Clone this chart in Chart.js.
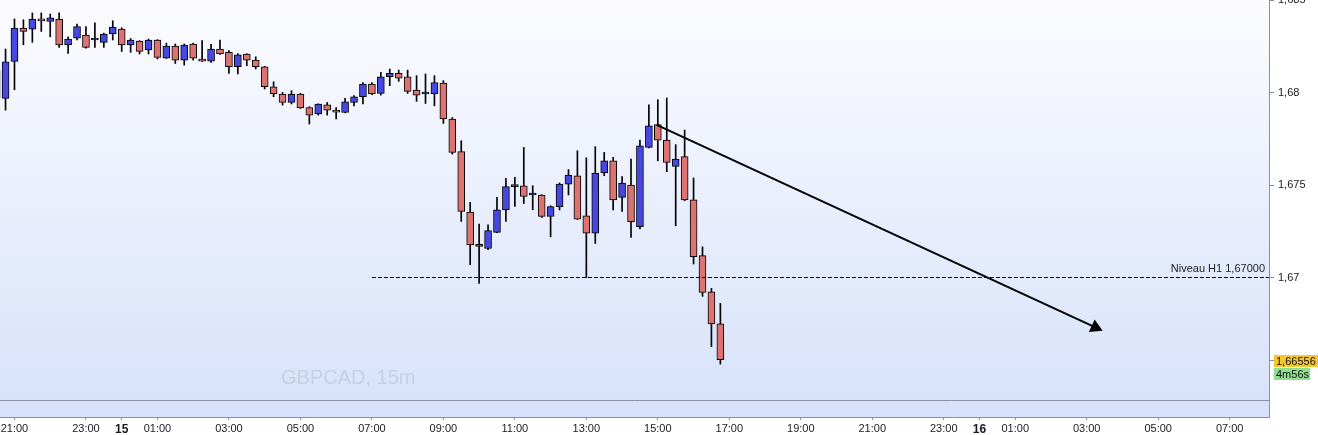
<!DOCTYPE html>
<html>
<head>
<meta charset="utf-8">
<script src="https://cdn.jsdelivr.net/npm/chart.js@4.4.1/dist/chart.umd.min.js"></script>
<style>
  html, body { margin: 0; padding: 0; background: #fff; }
  #wrap { width: 1318px; height: 435px; }
</style>
</head>
<body>
<div id="wrap"><canvas id="chart"></canvas></div>
<script>
// GBPCAD 15m. Slot 0 = 21:00 on the 14th, one slot per 15 minutes.
// First candle shown is 20:30 (slot -2), last one 16:45 (slot 79).
const firstSlot = -2;

const open = [
  1.67972, 1.67968,
  1.68168, 1.68348, 1.68343, 1.68388, 1.68384, 1.68397, 1.68257, 1.68294, 1.68311, 1.68284,
  1.68271, 1.68316, 1.68343, 1.68257, 1.68278, 1.68230, 1.68284, 1.68186, 1.68251, 1.68175,
  1.68262, 1.68179, 1.68170, 1.68235, 1.68217, 1.68139, 1.68208, 1.68175, 1.68139, 1.68031,
  1.67992, 1.67946, 1.67992, 1.67919, 1.67884, 1.67934, 1.67905, 1.67892, 1.67946, 1.67977,
  1.68046, 1.67995, 1.68085, 1.68103, 1.68085, 1.68013, 1.67992, 1.67992, 1.68051, 1.67857,
  1.67680, 1.67354, 1.67168, 1.67157, 1.67244, 1.67365, 1.67491, 1.67496, 1.67446, 1.67446,
  1.67330, 1.67383, 1.67505, 1.67550, 1.67334, 1.67240, 1.67565, 1.67631, 1.67433, 1.67500,
  1.67275, 1.67703, 1.67826, 1.67743, 1.67600, 1.67653, 1.67420, 1.67118, 1.66923, 1.66749
];
const high = [
  1.68139, 1.68235,
  1.68397, 1.68393, 1.68430, 1.68430, 1.68424, 1.68430, 1.68301, 1.68370, 1.68356, 1.68376,
  1.68321, 1.68388, 1.68350, 1.68292, 1.68280, 1.68289, 1.68286, 1.68267, 1.68262, 1.68262,
  1.68267, 1.68280, 1.68260, 1.68284, 1.68226, 1.68210, 1.68210, 1.68193, 1.68142, 1.68058,
  1.68000, 1.68010, 1.67995, 1.67923, 1.67939, 1.67946, 1.67919, 1.67968, 1.67983, 1.68054,
  1.68054, 1.68109, 1.68127, 1.68121, 1.68121, 1.68091, 1.68100, 1.68091, 1.68064, 1.67865,
  1.67739, 1.67406, 1.67289, 1.67285, 1.67433, 1.67536, 1.67541, 1.67703, 1.67496, 1.67448,
  1.67388, 1.67511, 1.67583, 1.67685, 1.67647, 1.67707, 1.67676, 1.67649, 1.67545, 1.67640,
  1.67743, 1.67934, 1.67961, 1.67970, 1.67718, 1.67797, 1.67538, 1.67166, 1.66941, 1.66860
];
const low = [
  1.67928, 1.67905,
  1.68015, 1.68258, 1.68271, 1.68330, 1.68301, 1.68244, 1.68211, 1.68284, 1.68240, 1.68244,
  1.68244, 1.68284, 1.68222, 1.68217, 1.68208, 1.68208, 1.68181, 1.68184, 1.68157, 1.68148,
  1.68175, 1.68168, 1.68162, 1.68206, 1.68103, 1.68100, 1.68145, 1.68127, 1.68019, 1.67977,
  1.67932, 1.67938, 1.67914, 1.67830, 1.67878, 1.67878, 1.67857, 1.67889, 1.67928, 1.67938,
  1.67988, 1.67986, 1.68037, 1.68060, 1.67995, 1.67952, 1.67941, 1.67928, 1.67833, 1.67667,
  1.67303, 1.67069, 1.66968, 1.67150, 1.67242, 1.67303, 1.67384, 1.67400, 1.67366, 1.67325,
  1.67220, 1.67365, 1.67446, 1.67314, 1.67000, 1.67184, 1.67550, 1.67365, 1.67357, 1.67217,
  1.67262, 1.67700, 1.67631, 1.67572, 1.67280, 1.67415, 1.67073, 1.66898, 1.66626, 1.66532
];
const close = [
  1.68118, 1.68166,
  1.68348, 1.68330, 1.68397, 1.68387, 1.68403, 1.68257, 1.68289, 1.68356, 1.68244, 1.68284,
  1.68316, 1.68354, 1.68257, 1.68284, 1.68222, 1.68284, 1.68190, 1.68251, 1.68175, 1.68257,
  1.68186, 1.68170, 1.68235, 1.68208, 1.68139, 1.68204, 1.68175, 1.68139, 1.68031, 1.67992,
  1.67946, 1.67992, 1.67916, 1.67878, 1.67938, 1.67905, 1.67894, 1.67950, 1.67977, 1.68046,
  1.67992, 1.68085, 1.68103, 1.68078, 1.68006, 1.67986, 1.67992, 1.68054, 1.67857, 1.67676,
  1.67357, 1.67176, 1.67168, 1.67253, 1.67366, 1.67491, 1.67491, 1.67438, 1.67446, 1.67330,
  1.67383, 1.67505, 1.67554, 1.67316, 1.67239, 1.67565, 1.67631, 1.67419, 1.67511, 1.67302,
  1.67712, 1.67820, 1.67743, 1.67622, 1.67640, 1.67419, 1.67112, 1.66919, 1.66749, 1.66556
];

const yTicks = [1.67, 1.675, 1.68, 1.685];
const xTickSlots = [0, 8, 12, 16, 24, 32, 40, 48, 56, 64, 72, 80, 88, 96, 104, 108, 112, 120, 128, 136];
const xTickLabels = ['21:00', '23:00', '15', '01:00', '03:00', '05:00', '07:00', '09:00', '11:00', '13:00',
  '15:00', '17:00', '19:00', '21:00', '23:00', '16', '01:00', '03:00', '05:00', '07:00'];

// horizontal level and trend arrow drawn on the chart
const levelPrice = 1.67;
const levelFromSlot = 40;
const levelText = 'Niveau H1 1,67000';
const trendStart = { x: 71.87, y: 1.67825 };
const trendEnd = { x: 120.97, y: 1.66730 };
const symbolText = 'GBPCAD, 15m';
const timerText = '4m56s';

const xMin = -1.62, xMax = 140.4;
const yMin = 1.66246, yMax = 1.685;

const bullColor = '#4747e2';
const bearColor = '#db7371';
const frameColor = '#8791a3';
const font = '"Liberation Sans", Arial, sans-serif';

const wicks = open.map((o, i) => ({ x: i + firstSlot, y: [low[i], high[i]] }));
const bodies = open.map((o, i) => ({ x: i + firstSlot, y: [o, close[i]] }));

const decor = {
  id: 'decor',
  beforeDraw(chart) {
    const { ctx, chartArea: a } = chart;
    ctx.save();
    const g = ctx.createLinearGradient(0, a.top, 0, a.bottom);
    g.addColorStop(0, '#fcfcff');
    g.addColorStop(1, '#d6e1fa');
    ctx.fillStyle = g;
    ctx.fillRect(a.left, a.top, a.right - a.left, a.bottom - a.top);

    // separator above the empty lower strip
    const sy = Math.round(a.bottom - 17) + 0.5;
    ctx.strokeStyle = frameColor;
    ctx.lineWidth = 1;
    ctx.beginPath();
    ctx.moveTo(a.left, sy);
    ctx.lineTo(a.right, sy);
    ctx.stroke();

    ctx.font = '20px ' + font;
    ctx.fillStyle = '#c7cfe3';
    ctx.textBaseline = 'alphabetic';
    ctx.textAlign = 'left';
    ctx.fillText(symbolText, 281, 384);
    ctx.restore();
  },
  afterDraw(chart) {
    const { ctx, chartArea: a } = chart;
    const ys = chart.scales.y;
    ctx.save();

    // level caption
    const ly = ys.getPixelForValue(levelPrice);
    ctx.font = '11px ' + font;
    ctx.fillStyle = '#222';
    ctx.textAlign = 'right';
    ctx.textBaseline = 'alphabetic';
    ctx.fillText(levelText, a.right - 4, ly - 6);

    // current price marker on the axis
    const last = close[close.length - 1];
    const py = Math.round(ys.getPixelForValue(last));
    ctx.strokeStyle = frameColor;
    ctx.beginPath();
    ctx.moveTo(a.right, py + 0.5);
    ctx.lineTo(a.right + 5, py + 0.5);
    ctx.stroke();

    ctx.fillStyle = '#f6c82e';
    ctx.fillRect(a.right + 5, py - 5, chart.width - a.right - 5, 12);
    ctx.fillStyle = '#8fdf8f';
    ctx.fillRect(a.right + 5, py + 8, 36, 12);

    ctx.fillStyle = '#111';
    ctx.textAlign = 'left';
    ctx.textBaseline = 'middle';
    ctx.fillText(last.toFixed(5).replace('.', ','), a.right + 7, py + 1.5);
    ctx.fillText(timerText, a.right + 7, py + 14.5);
    ctx.restore();
  }
};

new Chart(document.getElementById('chart'), {
  type: 'bar',
  data: {
    datasets: [
      {
        type: 'line',
        data: [trendStart, trendEnd],
        borderColor: '#000',
        borderWidth: 2,
        pointRadius: [0, 8],
        pointStyle: 'triangle',
        pointRotation: 115,
        pointBackgroundColor: '#000',
        pointBorderWidth: 0,
        order: 0
      },
      {
        type: 'line',
        data: [{ x: levelFromSlot, y: levelPrice }, { x: xMax, y: levelPrice }],
        borderColor: '#000',
        borderWidth: 1,
        borderDash: [4, 2],
        pointRadius: 0,
        order: 1
      },
      {
        data: bodies,
        backgroundColor: bodies.map(b => b.y[1] >= b.y[0] ? bullColor : bearColor),
        borderColor: '#000',
        borderWidth: 1,
        borderSkipped: false,
        barThickness: 7,
        minBarLength: 2,
        grouped: false,
        order: 2
      },
      {
        data: wicks,
        backgroundColor: '#000',
        barThickness: 1,
        grouped: false,
        order: 3
      }
    ]
  },
  options: {
    responsive: true,
    maintainAspectRatio: false,
    animation: false,
    layout: { padding: 0, autoPadding: false },
    plugins: {
      legend: { display: false },
      tooltip: { enabled: false }
    },
    scales: {
      x: {
        type: 'linear',
        min: xMin,
        max: xMax,
        offset: false,
        afterBuildTicks: (scale) => {
          scale.ticks = xTickSlots.map(v => ({ value: v }));
        },
        afterFit: (scale) => {
          scale.height = 18;
          scale.paddingLeft = 0;
          scale.paddingRight = 0;
        },
        ticks: {
          autoSkip: false,
          maxRotation: 0,
          padding: 2,
          color: '#1a1a1a',
          font: (c) => xTickLabels[c.index] && xTickLabels[c.index].indexOf(':') < 0
            ? { family: font, size: 12, weight: 'bold' }
            : { family: font, size: 11 },
          callback: (v, i) => xTickLabels[i]
        },
        grid: { display: true, offset: false, drawOnChartArea: false, drawTicks: true, tickLength: 3, color: frameColor },
        border: { display: true, color: frameColor }
      },
      y: {
        position: 'right',
        min: yMin,
        max: yMax,
        afterBuildTicks: (scale) => {
          scale.ticks = yTicks.map(v => ({ value: v }));
        },
        afterFit: (scale) => {
          scale.width = 49;
          scale.paddingTop = 0;
          scale.paddingBottom = 0;
        },
        ticks: {
          padding: 4,
          color: '#1a1a1a',
          font: { family: font, size: 11 },
          callback: (v) => String(v).replace('.', ',')
        },
        grid: { display: true, offset: false, drawOnChartArea: false, drawTicks: true, tickLength: 5, color: frameColor },
        border: { display: true, color: frameColor }
      }
    }
  },
  plugins: [decor]
});
</script>
</body>
</html>
